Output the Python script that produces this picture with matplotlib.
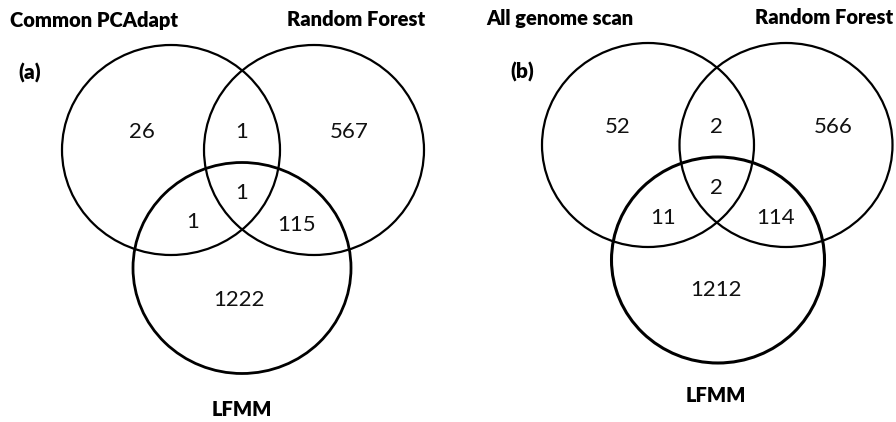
import matplotlib.pyplot as plt
from matplotlib.patches import Ellipse

plt.rcParams['font.family'] = ['Lato', 'DejaVu Sans']

# set names and region counts for each panel
panel_tags = ['(a)', '(b)']
set_names_a = ['Common PCAdapt', 'Random Forest', 'LFMM']
set_names_b = ['All genome scan', 'Random Forest', 'LFMM']
# order: only A, A&B, only B, A&B&C, A&C, B&C, only C
counts_a = [26, 1, 567, 1, 1, 115, 1222]
counts_b = [52, 2, 566, 2, 11, 114, 1212]

# layout in pixel coords (x, y from top)
circles_a = [(171, 150, 218, 210), (314, 150, 220, 210), (242, 268, 218, 211)]
circles_b = [(648, 145, 212, 204), (786, 145, 213, 204), (718, 260, 213, 206)]
widths_a = [1.6, 1.6, 2.0]
widths_b = [1.6, 1.6, 2.2]
count_pos_a = [(142, 132), (242, 132), (349, 132), (242, 193), (193, 222), (297, 225), (239, 300)]
count_pos_b = [(618, 127), (716, 127), (833, 127), (716, 188), (663, 218), (776, 218), (716, 290)]
name_pos_a = [(10, 20, 'left'), (425, 20, 'right'), (242, 410, 'center')]
name_pos_b = [(486, 18, 'left'), (893, 18, 'right'), (716, 396, 'center')]
tag_pos = [(18, 73), (510, 72)]

fig = plt.figure(figsize=(8.96, 4.22), dpi=100)
ax = fig.add_axes([0, 0, 1, 1])
ax.set_xlim(0, 896)
ax.set_ylim(422, 0)
ax.axis('off')

panels = [(circles_a, widths_a, counts_a, count_pos_a, set_names_a, name_pos_a),
          (circles_b, widths_b, counts_b, count_pos_b, set_names_b, name_pos_b)]

for k, (circles, lws, counts, cpos, names, npos) in enumerate(panels):
    for (cx, cy, w, h), lw in zip(circles, lws):
        ax.add_patch(Ellipse((cx, cy), w, h, fill=False, edgecolor='black', linewidth=lw))
    for c, (x, y) in zip(counts, cpos):
        ax.text(x, y, str(c), ha='center', va='center', fontsize=16, color='#111111')
    for name, (x, y, ha) in zip(names, npos):
        ax.text(x, y, name, ha=ha, va='center', fontsize=14.5, fontweight='heavy')
    tx, ty = tag_pos[k]
    ax.text(tx, ty, panel_tags[k], ha='left', va='center', fontsize=15, fontweight='heavy')

plt.savefig('out.png', dpi=100)
plt.close('all')
